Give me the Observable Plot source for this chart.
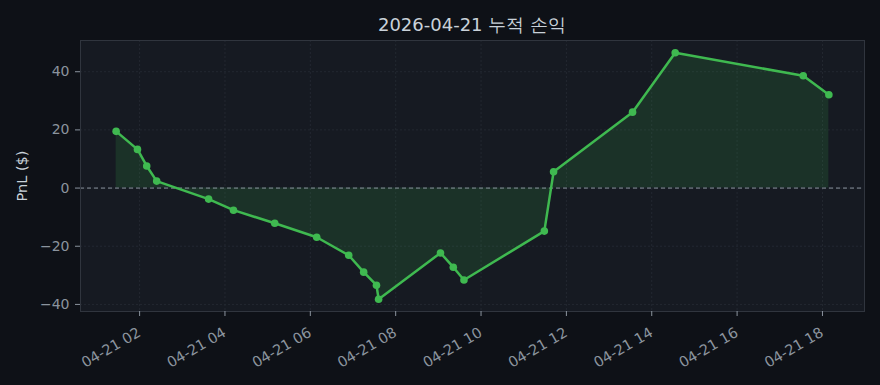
<!DOCTYPE html>
<html>
<head>
<meta charset="utf-8">
<script src="https://cdn.jsdelivr.net/npm/d3@7"></script>
<script src="https://cdn.jsdelivr.net/npm/@observablehq/plot@0.6"></script>
<style>
  html, body { margin: 0; padding: 0; background: #0e1117; }
  body { width: 880px; height: 385px; overflow: hidden; position: relative; font-family: "DejaVu Sans", sans-serif; }
  #title {
    position: absolute; left: 80px; width: 784px; top: 14px;
    text-align: center; color: #c9d1d9; font-size: 18px; line-height: 22px;
  }
  #chart { position: absolute; left: 0; top: 39px; }
  #chart svg, #chart svg text { font-family: "DejaVu Sans", sans-serif !important; }
</style>
</head>
<body>
<div id="title"></div>
<div id="chart"></div>
<script>
// Trading day and cumulative PnL samples (UTC clock time, dollars)
const day = "2026-04-21";
const titleText = `${day} 누적 손익`;
const times = ["01:27", "01:57", "02:10", "02:24", "03:37", "04:12", "05:10", "06:09", "06:54", "07:15", "07:33",
               "07:36", "09:03", "09:21", "09:36", "11:29", "11:42", "13:33", "14:33", "17:33", "18:09"];
const pnl = [19.5, 13.3, 7.6, 2.4, -3.8, -7.6, -12.1, -16.9, -23.1, -28.9, -33.4,
             -38.2, -22.3, -27.2, -31.6, -14.8, 5.6, 26.1, 46.5, 38.6, 32.1];
const tickHours = ["02", "04", "06", "08", "10", "12", "14", "16", "18"];
const yTicks = [-40, -20, 0, 20, 40];
const yLabel = "PnL ($)";

const green = "#3fb950";
const tickGray = "#8b949e";
const data = times.map((t, i) => ({time: new Date(`${day}T${t}:00Z`), pnl: pnl[i]}));
const xTicks = tickHours.map(h => new Date(`${day}T${h}:00:00Z`));
const fmtX = d3.utcFormat("%m-%d %H");
const fmtY = d3.format("d"); // typographic minus sign for negatives

// 5% padding on each side of the data extent
const pad = ([a, b]) => { const m = (b - a) * 0.05; return [a - m, b + m]; };
const tExt = d3.extent(data, d => +d.time);
const xDomain = pad(tExt).map(v => new Date(v));
const yDomain = pad(d3.extent(pnl));

document.getElementById("title").textContent = titleText;

const chart = Plot.plot({
  width: 880,
  height: 346,
  marginTop: 1,
  marginLeft: 80,
  marginRight: 16,
  marginBottom: 74,
  style: {background: "transparent", color: tickGray, fontSize: "14px", fontFamily: "'DejaVu Sans', sans-serif"},
  x: {type: "utc", domain: xDomain},
  y: {domain: yDomain},
  marks: [
    Plot.frame({fill: "#161a22", stroke: null}),
    Plot.gridX(xTicks, {stroke: "#232831", strokeOpacity: 1, strokeDasharray: "2,2"}),
    Plot.gridY(yTicks, {stroke: "#232831", strokeOpacity: 1, strokeDasharray: "2,2"}),
    Plot.areaY(data, {x: "time", y1: 0, y2: "pnl", fill: green, fillOpacity: 0.15, curve: "linear"}),
    Plot.ruleY([0], {stroke: tickGray, strokeWidth: 1, strokeDasharray: "4,3"}),
    Plot.lineY(data, {x: "time", y: "pnl", stroke: green, strokeWidth: 2.5}),
    Plot.dot(data, {x: "time", y: "pnl", r: 3.8, fill: green, stroke: null}),
    Plot.frame({stroke: "#30353e", strokeWidth: 1}),
    // x tick marks, with rotated date labels hanging below them
    Plot.axisX(xTicks, {tickFormat: () => "", tickSize: 5, stroke: tickGray, label: null}),
    Plot.text(xTicks, {x: d => d, text: fmtX, frameAnchor: "bottom", rotate: -30, textAnchor: "end",
                       lineAnchor: "top", dx: -3, dy: 15, fill: tickGray, fontSize: 14.5}),
    Plot.axisY(yTicks, {tickSize: 5, tickPadding: 6, tickFormat: fmtY, stroke: tickGray, fill: tickGray,
                        fontSize: 14, label: null}),
    Plot.text([yLabel], {frameAnchor: "left", dx: -58, rotate: -90, textAnchor: "middle",
                         fill: "#c9d1d9", fontSize: 14.5})
  ]
});
document.getElementById("chart").appendChild(chart);
</script>
</body>
</html>
